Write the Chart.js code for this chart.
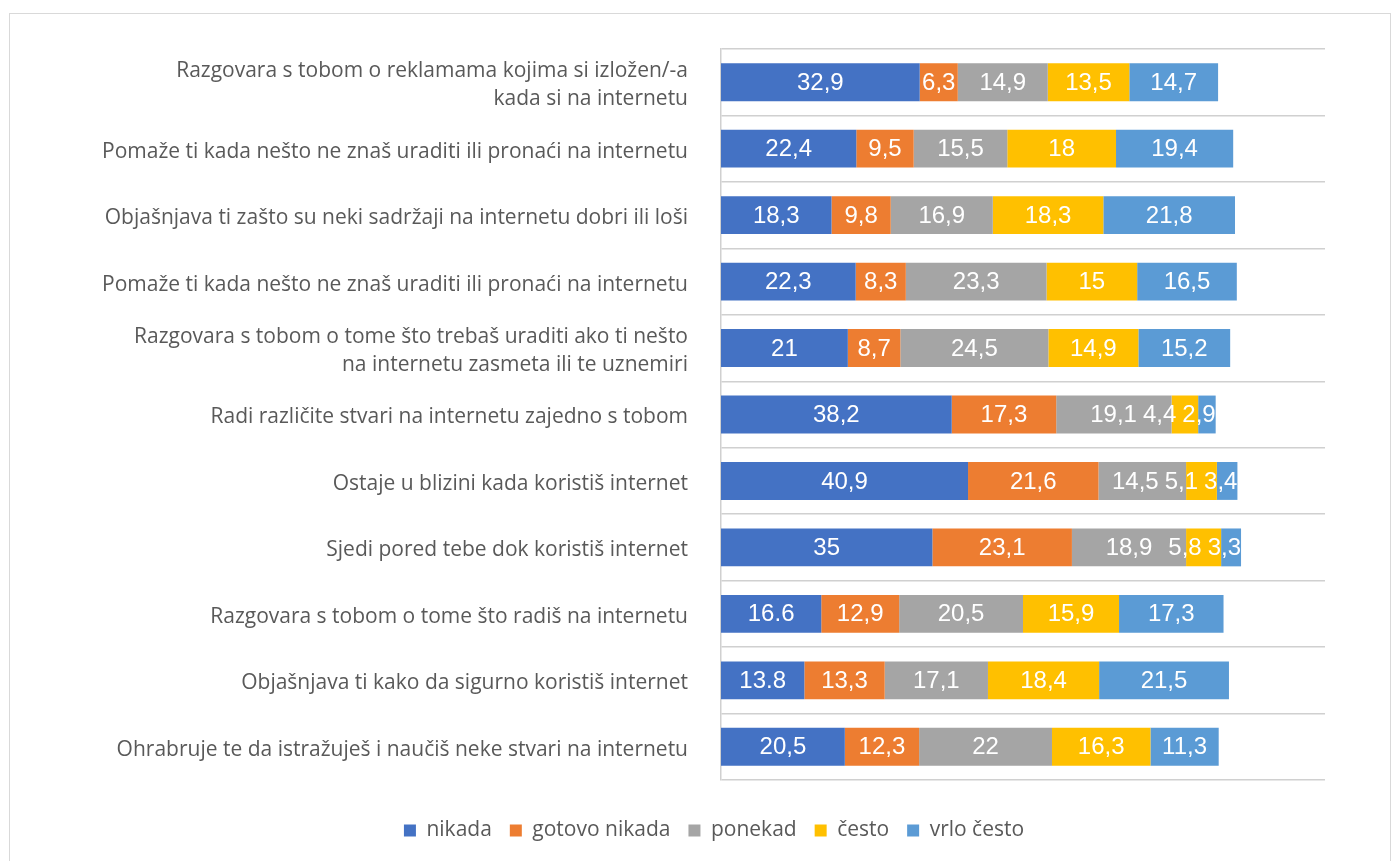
<!DOCTYPE html>
<html>
<head>
<meta charset="utf-8">
<script src="https://cdn.jsdelivr.net/npm/chart.js@4"></script>
<style>
  html, body { margin: 0; padding: 0; background: #fff; overflow: hidden; }
  #frame {
    position: absolute; left: 9px; top: 13px;
    width: 1380px; height: 870px;
    border: 1px solid #d9d9d9;
  }
  #wrap { position: absolute; left: 0; top: 0; width: 1380px; height: 837px; }
</style>
</head>
<body>
<div id="frame">
  <div id="wrap"><canvas id="grafico"></canvas></div>
</div>
<script>
const categorias = [
  ["Razgovara s tobom o reklamama kojima si izložen/-a", "kada si na internetu"],
  "Pomaže ti kada nešto ne znaš uraditi ili pronaći na internetu",
  "Objašnjava ti zašto su neki sadržaji na internetu dobri ili loši",
  "Pomaže ti kada nešto ne znaš uraditi ili pronaći na internetu",
  ["Razgovara s tobom o tome što trebaš uraditi ako ti nešto", "na internetu zasmeta ili te uznemiri"],
  "Radi različite stvari na internetu zajedno s tobom",
  "Ostaje u blizini kada koristiš internet",
  "Sjedi pored tebe dok koristiš internet",
  "Razgovara s tobom o tome što radiš na internetu",
  "Objašnjava ti kako da sigurno koristiš internet",
  "Ohrabruje te da istražuješ i naučiš neke stvari na internetu"
];

const nikada       = [32.9, 22.4, 18.3, 22.3, 21, 38.2, 40.9, 35, 16.6, 13.8, 20.5];
const gotovoNikada = [6.3, 9.5, 9.8, 8.3, 8.7, 17.3, 21.6, 23.1, 12.9, 13.3, 12.3];
const ponekad      = [14.9, 15.5, 16.9, 23.3, 24.5, 19.1, 14.5, 18.9, 20.5, 17.1, 22];
const cesto        = [13.5, 18, 18.3, 15, 14.9, 4.4, 5.1, 5.8, 15.9, 18.4, 16.3];
const vrloCesto    = [14.7, 19.4, 21.8, 16.5, 15.2, 2.9, 3.4, 3.3, 17.3, 21.5, 11.3];

// u originalu ova dva broja su ispisana s tačkom
const sTackom = [[0, 8], [0, 9]];

const serije = [
  { label: "nikada", data: nikada, color: "#4472C4" },
  { label: "gotovo nikada", data: gotovoNikada, color: "#ED7D31" },
  { label: "ponekad", data: ponekad, color: "#A5A5A5" },
  { label: "često", data: cesto, color: "#FFC000" },
  { label: "vrlo često", data: vrloCesto, color: "#5B9BD5" }
];

function formatiraj(v, ds, i) {
  const dot = sTackom.some(p => p[0] === ds && p[1] === i);
  const s = String(v);
  return dot ? s : s.replace(".", ",");
}

// oznake unutar traka, pomaknute ulijevo kad se preklapaju
const oznake = {
  id: "oznake",
  afterDatasetsDraw(chart) {
    const ctx = chart.ctx;
    ctx.save();
    ctx.font = "24px 'Liberation Sans', Arial, sans-serif";
    ctx.fillStyle = "#ffffff";
    ctx.textAlign = "center";
    ctx.textBaseline = "middle";
    const n = chart.data.labels.length;
    for (let i = 0; i < n; i++) {
      const items = [];
      chart.data.datasets.forEach((ds, d) => {
        const bar = chart.getDatasetMeta(d).data[i];
        const txt = formatiraj(ds.data[i], d, i);
        const w = ctx.measureText(txt).width;
        items.push({ txt, w, cx: (bar.x + bar.base) / 2, y: bar.y, end: bar.x });
      });
      const last = items[items.length - 1];
      if (last.cx + last.w / 2 > last.end) last.cx = last.end - last.w / 2;
      for (let k = items.length - 2; k >= 0; k--) {
        const lim = items[k + 1].cx - items[k + 1].w / 2 - 6;
        if (items[k].cx + items[k].w / 2 > lim) items[k].cx = lim - items[k].w / 2;
      }
      items.forEach(it => ctx.fillText(it.txt, it.cx, it.y + 1));
    }
    ctx.restore();
  }
};

const ctx = document.getElementById("grafico").getContext("2d");

new Chart(ctx, {
  type: "bar",
  data: {
    labels: categorias,
    datasets: serije.map(s => ({
      label: s.label,
      data: s.data,
      backgroundColor: s.color,
      borderWidth: 0,
      categoryPercentage: 1,
      barPercentage: 0.57
    }))
  },
  options: {
    indexAxis: "y",
    responsive: true,
    maintainAspectRatio: false,
    animation: false,
    layout: { padding: { top: 35, right: 65, left: 93, bottom: 0 } },
    scales: {
      x: {
        stacked: true,
        min: 0,
        max: 100,
        ticks: { display: false },
        grid: { display: false },
        border: { display: false },
        afterFit: (s) => { s.height = 22; }
      },
      y: {
        stacked: true,
        grid: { color: "#d0d0d0", lineWidth: 1.5, drawTicks: false, offset: true },
        border: { color: "#d0d0d0", width: 1.5 },
        ticks: {
          color: "#595959",
          padding: 33,
          labelOffset: 3,
          font: { family: "'Open Sans', sans-serif", size: 21, lineHeight: 1.36 }
        },
        afterFit: (s) => {
          s.width = 618;
          s.paddingTop = 0;
          s.paddingBottom = 0;
        }
      }
    },
    plugins: {
      legend: {
        position: "bottom",
        labels: {
          boxWidth: 12,
          boxHeight: 12,
          padding: 18,
          color: "#595959",
          font: { family: "'Open Sans', sans-serif", size: 21 }
        }
      },
      tooltip: { enabled: false }
    }
  },
  plugins: [oznake]
});
</script>
</body>
</html>
